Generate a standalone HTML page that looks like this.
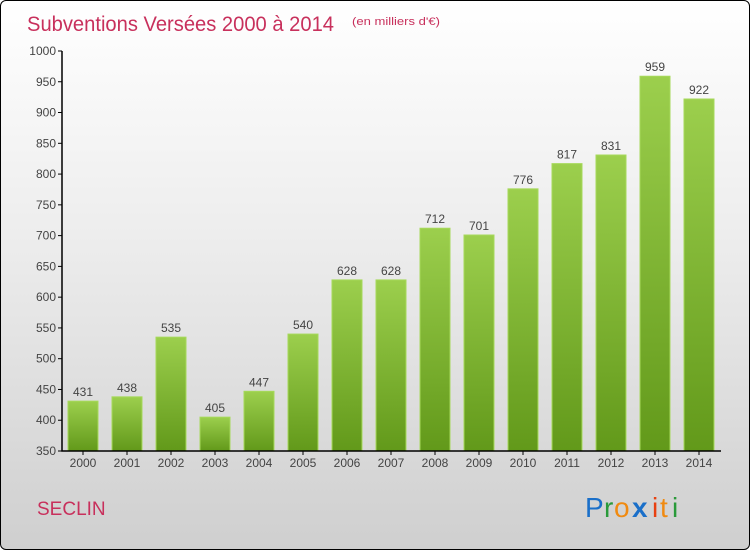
<!DOCTYPE html>
<html><head><meta charset="utf-8"><style>
body{margin:0;width:750px;height:550px;overflow:hidden;font-family:"Liberation Sans",sans-serif}
#frame{position:absolute;left:0;top:0;width:748px;height:548px;border:1px solid #000;border-radius:6px;background:linear-gradient(#fff 0%,#ececec 45%,#cfcfcf 100%);overflow:hidden}
</style></head><body>
<div id="frame">
<svg width="750" height="550" style="position:absolute;left:0;top:0" id="svg">
<defs><linearGradient id="bg" x1="0" y1="0" x2="0" y2="1"><stop offset="0" stop-color="#9ccf4d"/><stop offset="1" stop-color="#62991a"/></linearGradient></defs>
<text x="26" y="30" font-size="21" fill="#c8305c" textLength="307" lengthAdjust="spacingAndGlyphs">Subventions Versées 2000 à 2014</text>
<text x="351" y="24" font-size="11" fill="#c8305c" textLength="88" lengthAdjust="spacingAndGlyphs">(en milliers d'€)</text>
<text x="36" y="514" font-size="19" fill="#c8305c">SECLIN</text>
<g font-size="28">
<text x="584" y="516" fill="#1a6fc9">P</text><text x="603" y="516" fill="#2a9a3a">r</text><text x="613" y="516" fill="#f08a10">o</text><text x="631" y="516" fill="#1a6fc9" font-weight="bold">x</text><text x="651" y="516" fill="#e84010">i</text><text x="659" y="516" fill="#f08a10">t</text><text x="671" y="516" fill="#2a9a3a">i</text>
</g>
<g id="plot"></g>
</svg></div>
<script>
const years=["2000","2001","2002","2003","2004","2005","2006","2007","2008","2009","2010","2011","2012","2013","2014"];
const values=[431,438,535,405,447,540,628,628,712,701,776,817,831,959,922];
const yTicks=[350,400,450,500,550,600,650,700,750,800,850,900,950,1000];
const NS="http://www.w3.org/2000/svg";
const g=document.getElementById('plot');
const y0=450,y1=50,vmin=350,vmax=1000;
const y=v=>y0-(v-vmin)/(vmax-vmin)*(y0-y1);
const x=i=>82+i*44;
function mk(t,a){const e=document.createElementNS(NS,t);for(const k in a)e.setAttribute(k,a[k]);g.appendChild(e);return e;}
yTicks.forEach(t=>{
 const l=mk('line',{x1:57,x2:61,y1:y(t),y2:y(t),stroke:'#000'});
 
 
 const tx=mk('text',{x:55,y:y(t)+4,'text-anchor':'end','font-size':12,fill:'#444'});
 tx.textContent=t;
 
 
});
years.forEach((yr,i)=>{
 const r=mk('rect',{x:x(i)-15,y:y(values[i]),width:30,height:y0-y(values[i]),fill:'url(#bg)',stroke:'#a6d95a','stroke-width':1});
 
 
 const v=mk('text',{x:x(i),y:y(values[i])-5,'text-anchor':'middle','font-size':12,fill:'#444'});
 v.textContent=values[i];
 
 
 const tk=mk('line',{x1:x(i),x2:x(i),y1:450,y2:454,stroke:'#000'});
 
 
 const t=mk('text',{x:x(i),y:466,'text-anchor':'middle','font-size':12,fill:'#444'});
 t.textContent=yr;
 
 
});
const ax=mk('path',{d:'M61 50 V450 H720',stroke:'#000',fill:'none','stroke-width':1.5});


</script>
</body></html>
